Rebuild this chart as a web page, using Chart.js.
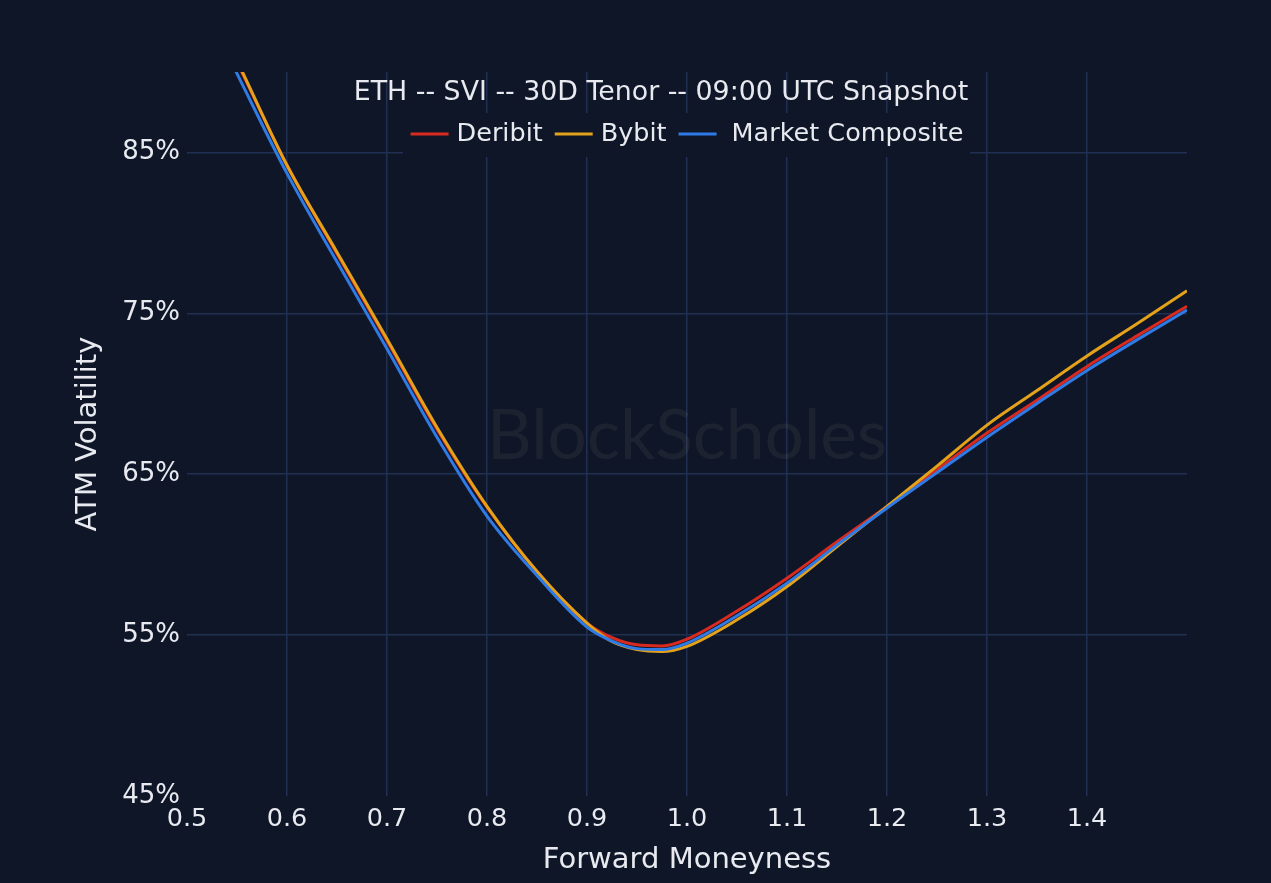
<!DOCTYPE html>
<html>
<head>
<meta charset="utf-8">
<script src="https://cdn.jsdelivr.net/npm/chart.js@4.4.1/dist/chart.umd.min.js"></script>
<style>
  html, body { margin: 0; padding: 0; background: #0e1628; }
  #wrap { position: relative; width: 1271px; height: 883px; }
</style>
</head>
<body>
<div id="wrap"><canvas id="c"></canvas></div>
<script>
const chartTitle = 'ETH -- SVI -- 30D Tenor -- 09:00 UTC Snapshot';
const watermarkText = 'BlockScholes';
const xTitle = 'Forward Moneyness';
const yTitle = 'ATM Volatility';
const seriesNames = ['Deribit', 'Bybit', 'Market Composite'];
const yTickValues = [45, 55, 65, 75, 85];
const xTickValues = [0.5, 0.6, 0.7, 0.8, 0.9, 1.0, 1.1, 1.2, 1.3, 1.4];

const moneyness = [0.5, 0.55, 0.6, 0.65, 0.7, 0.75, 0.8, 0.85, 0.9, 0.925, 0.95, 0.975, 1.0, 1.05, 1.1, 1.15, 1.2, 1.25, 1.3, 1.35, 1.4, 1.45, 1.5];
const deribit   = [96.8, 90.6, 84.2, 78.7, 73.3, 67.8, 62.95, 58.95, 55.75, 54.85, 54.4, 54.33, 54.75, 56.5, 58.54, 60.8, 63.0, 65.28, 67.56, 69.6, 71.7, 73.6, 75.44];
const bybit     = [96.9, 90.7, 84.2, 78.8, 73.4, 67.9, 63.0, 58.95, 55.75, 54.6, 54.1, 53.98, 54.3, 55.95, 58.02, 60.5, 63.0, 65.5, 68.05, 70.2, 72.35, 74.35, 76.4];
const composite = [96.2, 89.9, 83.7, 78.2, 72.8, 67.3, 62.4, 58.7, 55.5, 54.63, 54.16, 54.1, 54.5, 56.2, 58.23, 60.6, 62.9, 65.1, 67.3, 69.4, 71.45, 73.35, 75.2];

const BG = '#0e1628';
const GRID = '#213052';
const TEXT = '#e8eaf0';
const COLORS = ['#d82a1f', '#e3a21a', '#2f7be6'];
const FONT = 'DejaVu Sans';

function toPts(ys) { return moneyness.map((x, i) => ({ x: x, y: ys[i] })); }

const overlay = {
  id: 'overlay',
  beforeDatasetsDraw(chart) {
    const { ctx, chartArea } = chart;
    const cx = (chartArea.left + chartArea.right) / 2;
    const cy = (chartArea.top + chartArea.bottom) / 2;
    ctx.save();
    let size = 60;
    ctx.font = '400 ' + size + 'px Lato';
    const w = ctx.measureText(watermarkText).width;
    size = size * 400 / w;
    ctx.font = '400 ' + size + 'px Lato';
    ctx.fillStyle = 'rgba(120,110,100,0.14)';
    ctx.textAlign = 'center';
    ctx.textBaseline = 'middle';
    ctx.fillText(watermarkText, cx, cy + 3);
    ctx.fillStyle = BG;
    ctx.fillRect(chartArea.left + 216, chartArea.top + 41, 567, 44);
    ctx.restore();
  },
  afterDatasetsDraw(chart) {
    const { ctx, chartArea } = chart;
    const cx = (chartArea.left + chartArea.right) / 2;
    ctx.save();
    ctx.fillStyle = TEXT;
    ctx.textBaseline = 'middle';
    ctx.textAlign = 'center';
    ctx.font = '26.8px "' + FONT + '"';
    ctx.fillText(chartTitle, cx - 26, chartArea.top + 21);
    ctx.font = '25.5px "' + FONT + '"';
    const lineLen = 38, gap = 8, itemGap = 12;
    const items = chart.data.datasets.map((d, i) => ({
      label: d.label, color: d.borderColor,
      tw: ctx.measureText(d.label).width,
      g: i === 2 ? 15 : gap
    }));
    let total = 0;
    items.forEach((it, i) => { total += lineLen + it.g + it.tw + (i < items.length - 1 ? itemGap : 0); });
    let x = cx - total / 2;
    const ly = chartArea.top + 62;
    ctx.textAlign = 'left';
    items.forEach((it) => {
      ctx.strokeStyle = it.color;
      ctx.lineWidth = 3;
      ctx.beginPath();
      ctx.moveTo(x, ly);
      ctx.lineTo(x + lineLen, ly);
      ctx.stroke();
      x += lineLen + it.g;
      ctx.fillStyle = TEXT;
      ctx.fillText(it.label, x, ly);
      x += it.tw + itemGap;
    });
    ctx.restore();
  }
};

const near = (a, b) => Math.abs(a - b) < 1e-6;

new Chart(document.getElementById('c'), {
  type: 'line',
  data: {
    datasets: [
      { label: seriesNames[0], data: toPts(deribit), borderColor: COLORS[0], order: 2 },
      { label: seriesNames[1], data: toPts(bybit), borderColor: COLORS[1], order: 1 },
      { label: seriesNames[2], data: toPts(composite), borderColor: COLORS[2], order: 0 }
    ].map(d => Object.assign(d, {
      borderWidth: 3, pointRadius: 0, fill: false,
      cubicInterpolationMode: 'monotone'
    }))
  },
  options: {
    responsive: true,
    maintainAspectRatio: false,
    animation: false,
    layout: { padding: { left: 0, top: 72, right: 84, bottom: 0 } },
    plugins: { legend: { display: false }, title: { display: false }, tooltip: { enabled: false } },
    scales: {
      x: {
        type: 'linear', min: 0.5, max: 1.5,
        afterFit(s) { s.height = 87; },
        afterBuildTicks(s) { s.ticks = xTickValues.map(v => ({ value: v })); },
        border: { display: false },
        grid: {
          drawTicks: false,
          color: (c) => (c.tick && near(c.tick.value, 0.5)) ? 'rgba(0,0,0,0)' : GRID,
          lineWidth: 1.5
        },
        ticks: {
          autoSkip: false, maxRotation: 0, padding: 8,
          color: TEXT, font: { family: FONT, size: 25.5 },
          callback: (v) => Number(v).toFixed(1)
        },
        title: {
          display: true, text: xTitle, color: TEXT,
          font: { family: FONT, size: 29 }, padding: { top: 3, bottom: 5 }
        }
      },
      y: {
        type: 'linear', min: 45, max: 90,
        afterFit(s) { s.width = 187; },
        afterBuildTicks(s) { s.ticks = yTickValues.map(v => ({ value: v })); },
        border: { display: false },
        grid: {
          drawTicks: false,
          color: (c) => (c.tick && near(c.tick.value, 45)) ? 'rgba(0,0,0,0)' : GRID,
          lineWidth: 1.5
        },
        ticks: {
          autoSkip: false, padding: 7,
          color: TEXT, font: { family: FONT, size: 26 },
          callback: (v) => v + '%'
        },
        title: {
          display: true, text: yTitle, color: TEXT,
          font: { family: FONT, size: 29 }, padding: { top: 71, bottom: 0 }
        }
      }
    }
  },
  plugins: [overlay]
});
</script>
</body>
</html>
